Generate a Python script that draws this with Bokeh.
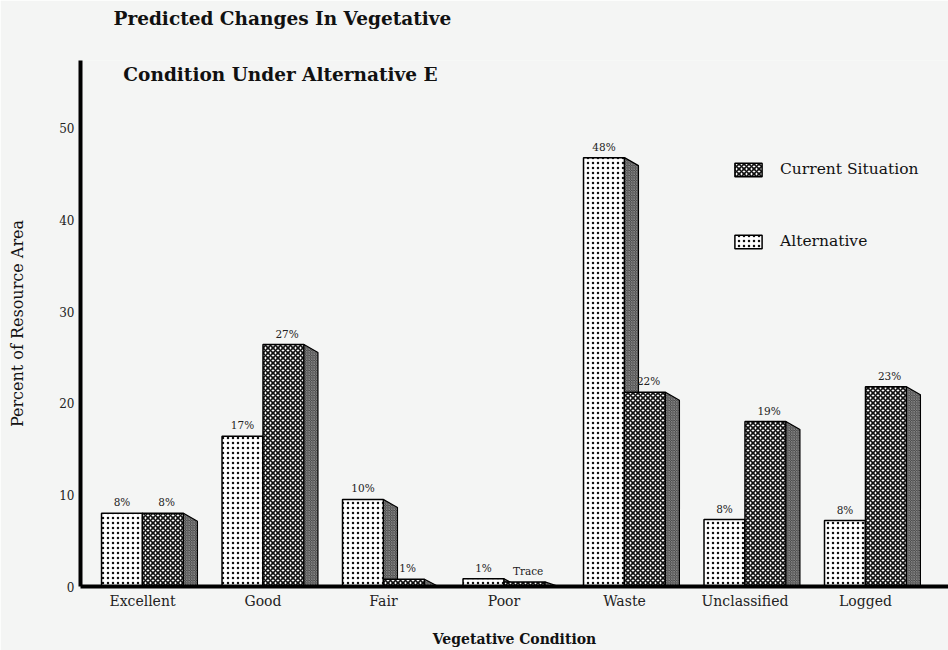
from bokeh.plotting import figure
from bokeh.models import Range1d, FixedTicker, Label, Legend, LegendItem, ColumnDataSource, Title
from bokeh.core.properties import value
from bokeh.embed import file_html
from bokeh.resources import INLINE

categories = ["Excellent", "Good", "Fair", "Poor", "Waste", "Unclassified", "Logged"]
alternative = [8.0, 16.4, 9.5, 0.85, 46.8, 7.3, 7.2]
current = [8.0, 26.4, 0.8, 0.5, 21.2, 18.0, 21.8]
alt_labels = ["8%", "17%", "10%", "1%", "48%", "8%", "8%"]
cur_labels = ["8%", "27%", "1%", "Trace", "22%", "19%", "23%"]
y_ticks = [0, 10, 20, 30, 40, 50]

BG = "#f4f5f4"
SERIF = "DejaVu Serif"
W = 0.34      # bar width (category units)
D = 0.116     # 3d depth (category units)
DROP = 0.87   # 3d slant (value units)

p = figure(width=948, height=650, output_backend="svg", toolbar_location=None,
           x_range=Range1d(-0.5145, 6.689), y_range=Range1d(0, 57.4),
           min_border_left=80, min_border_right=0, min_border_top=60, min_border_bottom=64)
p.background_fill_color = BG
p.border_fill_color = BG
p.outline_line_color = None
p.xgrid.visible = False
p.ygrid.visible = False

idx = list(range(len(categories)))

alt_src = ColumnDataSource(dict(x=[i - W / 2 for i in idx], top=alternative))
cur_src = ColumnDataSource(dict(x=[i + W / 2 for i in idx], top=current))

alt_side = ColumnDataSource(dict(
    xs=[[i, i + D, i + D, i] for i in idx],
    ys=[[h, max(h - DROP, 0), 0, 0] for h in alternative]))
cur_side = ColumnDataSource(dict(
    xs=[[i + W, i + W + D, i + W + D, i + W] for i in idx],
    ys=[[h, max(h - DROP, 0), 0, 0] for h in current]))

side_style = dict(fill_color="#4a4a4a", line_color="black", line_width=1.2,
                  hatch_pattern="x", hatch_color="#a0a0a0", hatch_scale=2.5, hatch_weight=0.6)

alt_r = p.vbar(x="x", top="top", width=W, bottom=0, source=alt_src,
               fill_color="white", line_color="black", line_width=1.5,
               hatch_pattern=".", hatch_color="#111111", hatch_scale=5, hatch_weight=1)
p.patches("xs", "ys", source=alt_side, **side_style)
cur_r = p.vbar(x="x", top="top", width=W, bottom=0, source=cur_src,
               fill_color="white", line_color="black", line_width=1.5,
               hatch_pattern="x", hatch_color="#111111", hatch_scale=5, hatch_weight=1.7)
p.patches("xs", "ys", source=cur_side, **side_style)

lab_src = ColumnDataSource(dict(
    x=[i - W / 2 for i in idx] + [i + W / 2 + 0.03 for i in idx],
    y=alternative + current,
    t=alt_labels + cur_labels))
p.text(x="x", y="y", text="t", source=lab_src, text_align="center", text_baseline="bottom",
       y_offset=-5, text_font=value(SERIF), text_font_size="10.5px", text_color="#222222")

# axes
for ax in (p.xaxis[0], p.yaxis[0]):
    ax.axis_line_width = 4
    ax.axis_line_color = "black"
    ax.major_tick_line_color = None
    ax.minor_tick_line_color = None
    ax.major_label_text_font = SERIF
    ax.major_label_text_color = "#222222"
    ax.axis_label_text_font = SERIF
    ax.axis_label_text_color = "#111111"
p.yaxis.ticker = FixedTicker(ticks=y_ticks)
p.yaxis.major_label_text_font_size = "12px"
p.yaxis.major_label_standoff = 0
p.yaxis.axis_label = "Percent of Resource Area"
p.yaxis.axis_label_text_font_size = "16px"
p.yaxis.axis_label_text_font_style = "normal"
p.yaxis.axis_label_standoff = 29
p.xaxis.ticker = FixedTicker(ticks=idx)
p.xaxis.major_label_overrides = {i: c for i, c in zip(idx, categories)}
p.xaxis.major_label_text_font_size = "14px"
p.xaxis.major_label_standoff = 0
p.xaxis.axis_label = "Vegetative Condition"
p.xaxis.axis_label_text_font_size = "14px"
p.xaxis.axis_label_text_font_style = "bold"
p.xaxis.axis_label_standoff = 19

# titles (a blank spacer title next to the frame, the first line above it)
p.add_layout(Title(text=" ", standoff=12, text_font=SERIF, text_font_size="10px"), "above")
p.add_layout(Title(text="Predicted Changes In Vegetative", align="left", offset=33,
                   standoff=10, vertical_align="top", text_font=SERIF, text_font_style="bold",
                   text_font_size="18.5px", text_color="#111111"), "above")
p.add_layout(Label(x=200, y=512, x_units="screen", y_units="screen",
                   text="Condition Under Alternative E", text_align="center", text_baseline="middle",
                   text_font=SERIF, text_font_style="bold", text_font_size="18.5px", text_color="#111111"))

legend = Legend(items=[LegendItem(label="Current Situation", renderers=[cur_r]),
                       LegendItem(label="Alternative", renderers=[alt_r])],
                location=(651, 336), glyph_width=34, glyph_height=17, label_height=17,
                spacing=54, padding=0, margin=0, border_line_color=None,
                background_fill_alpha=0, label_text_font=SERIF, label_text_font_size="15.5px",
                label_standoff=15, label_text_color="#111111")
p.add_layout(legend)

open("out.html", "w").write(file_html(p, INLINE))
